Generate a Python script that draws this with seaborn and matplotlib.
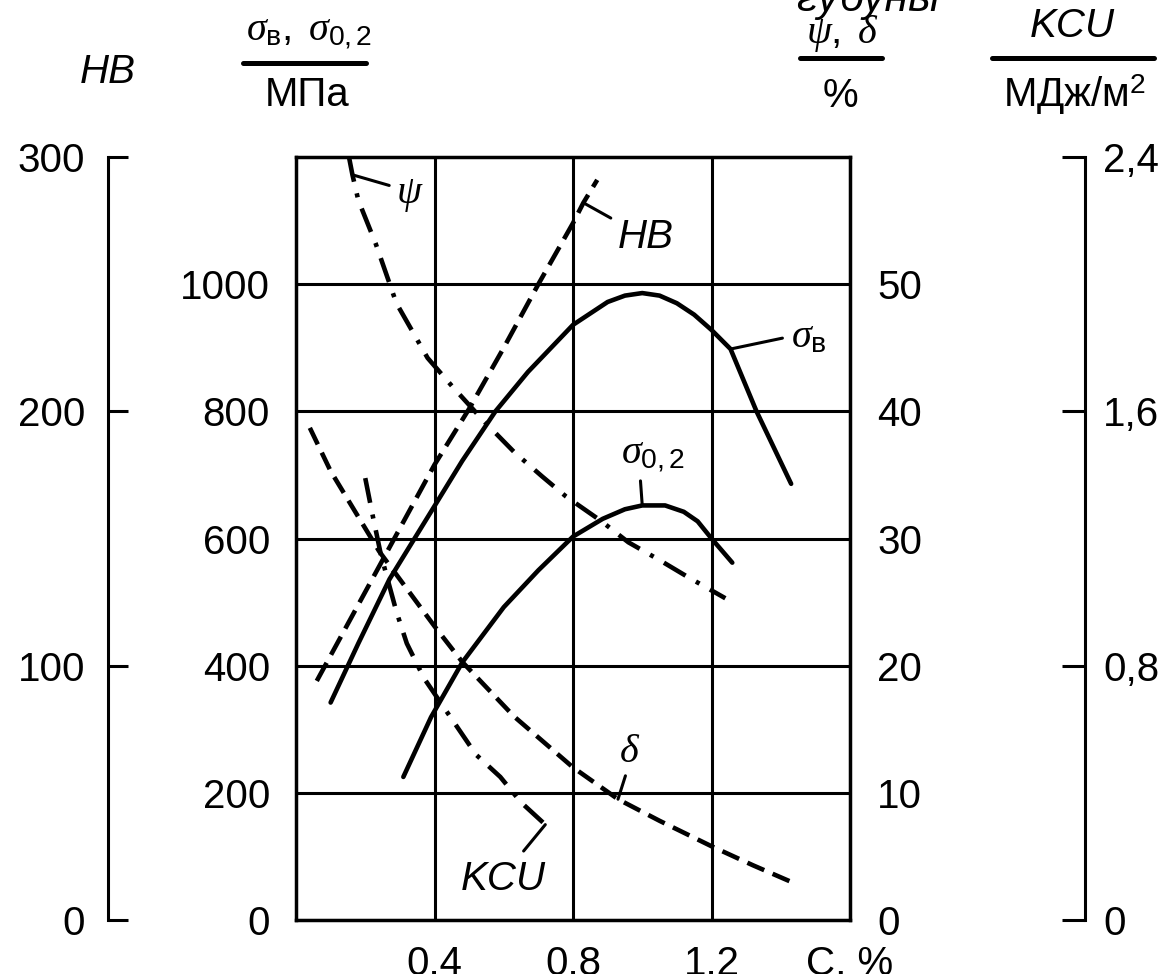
import matplotlib
matplotlib.use("Agg")
import matplotlib.pyplot as plt
import seaborn as sns
from matplotlib.lines import Line2D

# values, x = carbon content C, %
sigma_b_c = [0.10, 0.18, 0.27, 0.40, 0.48, 0.576, 0.67, 0.80, 0.90, 0.95, 1.00, 1.05, 1.10, 1.15, 1.20, 1.255, 1.33, 1.43]
sigma_b = [342, 435, 536, 651, 722, 800, 862, 936, 972, 982, 986, 982, 970, 952, 928, 898, 800, 686]  # MPa

sigma_02_c = [0.31, 0.39, 0.48, 0.60, 0.70, 0.80, 0.886, 0.95, 1.00, 1.066, 1.12, 1.16, 1.20, 1.26]
sigma_02 = [225, 319, 405, 492, 550, 603, 631, 646, 652, 652, 642, 627, 600, 562]  # MPa

hb_c = [0.06, 0.24, 0.40, 0.50, 0.60, 0.70, 0.80, 0.83, 0.87]
hb = [94, 139, 179, 201, 225, 250, 274, 282, 291]  # HB

psi_c = [0.153, 0.163, 0.18, 0.23, 0.29, 0.38, 0.45, 0.54, 0.63, 0.71, 0.78, 0.88, 0.96, 1.05, 1.13, 1.24]
psi = [60, 58.6, 56.6, 53.2, 48.5, 44.2, 42.0, 39.3, 36.8, 34.9, 33.3, 31.4, 29.7, 28.3, 27.0, 25.3]  # %

delta_c = [0.04, 0.10, 0.24, 0.40, 0.48, 0.63, 0.80, 0.93, 1.05, 1.20, 1.32, 1.43]
delta = [38.7, 35.3, 29.0, 23.1, 20.3, 16.0, 12.0, 9.5, 7.8, 5.8, 4.3, 3.0]  # %

kcu_c = [0.20, 0.22, 0.245, 0.29, 0.32, 0.37, 0.47, 0.52, 0.59, 0.65, 0.72]
kcu = [1.39, 1.28, 1.15, 0.97, 0.87, 0.76, 0.60, 0.52, 0.45, 0.37, 0.30]  # MJ/m2

x_ticks = [0.4, 0.8, 1.2, 1.6]
x_labels = ["0.4", "0.8", "1.2", "C, %"]
sigma_ticks = [0, 200, 400, 600, 800, 1000]
hb_ticks = [0, 100, 200, 300]
pd_ticks = [0, 10, 20, 30, 40, 50]
kcu_ticks = [0, 0.8, 1.6, 2.4]
kcu_labels = ["0", "0,8", "1,6", "2,4"]

sns.set_theme(style="white")
plt.rcParams["font.family"] = ["Liberation Sans", "DejaVu Sans"]
plt.rcParams["mathtext.fontset"] = "custom"
plt.rcParams["mathtext.rm"] = "Liberation Sans"
plt.rcParams["mathtext.sf"] = "Liberation Sans"
plt.rcParams["mathtext.it"] = "Liberation Serif:italic"
plt.rcParams["text.color"] = "black"

W, H = 1167, 974
FS = 29
PT = 0.72  # points per pixel at dpi 100

fig = plt.figure(figsize=(W / 100, H / 100), dpi=100)
L, R, T, B = 296, 850, 157, 920
ax = fig.add_axes([L / W, 1 - B / H, (R - L) / W, (B - T) / H])

# main grid / box
ax.set_xlim(0, 1.6)
ax.set_ylim(0, 1200)
ax.set_xticks(x_ticks)
ax.set_xticklabels(x_labels)
ax.set_yticks(sigma_ticks)
ax.set_yticklabels([str(v) for v in sigma_ticks])
ax.grid(True, color="black", lw=2.2)
for s in ax.spines.values():
    s.set_color("black")
    s.set_linewidth(2.5)
ax.tick_params(axis="y", length=0, pad=26 * PT, labelsize=FS, labelcolor="black")
ax.tick_params(axis="x", length=0, pad=25 * PT, labelsize=FS, labelcolor="black")

# HB axis on the far left
ax_hb = ax.twinx()
ax_hb.set_ylim(0, 300)
ax_hb.yaxis.set_ticks_position("left")
ax_hb.set_yticks(hb_ticks)
ax_hb.set_yticklabels([str(v) for v in hb_ticks])
for k, s in ax_hb.spines.items():
    s.set_visible(k == "left")
ax_hb.spines["left"].set_position(("outward", (L - 108) * PT))
ax_hb.spines["left"].set_linewidth(2.2)
ax_hb.spines["left"].set_color("black")
ax_hb.tick_params(axis="y", direction="in", length=20 * PT, width=2.2, pad=23 * PT,
                  labelsize=FS, labelcolor="black", color="black")

# psi, delta axis (labels just right of the box)
ax_pd = ax.twinx()
ax_pd.set_ylim(0, 60)
ax_pd.set_yticks(pd_ticks)
ax_pd.set_yticklabels([str(v) for v in pd_ticks])
for s in ax_pd.spines.values():
    s.set_visible(False)
ax_pd.tick_params(axis="y", length=0, pad=27 * PT, labelsize=FS, labelcolor="black")

# KCU axis on the far right
ax_kcu = ax.twinx()
ax_kcu.set_ylim(0, 2.4)
ax_kcu.set_yticks(kcu_ticks)
ax_kcu.set_yticklabels(kcu_labels)
for k, s in ax_kcu.spines.items():
    s.set_visible(k == "right")
ax_kcu.spines["right"].set_position(("outward", (1085 - R) * PT))
ax_kcu.spines["right"].set_linewidth(2.2)
ax_kcu.spines["right"].set_color("black")
ax_kcu.tick_params(axis="y", direction="in", length=23 * PT, width=2.2, pad=18 * PT,
                   labelsize=FS, labelcolor="black", color="black")

LW = 3.3
dash = (0, (4.5, 2.0))
dash_d = (0, (4.0, 2.0))
dashdot = (0, (5.5, 2.6, 0.9, 2.6))

sns.lineplot(x=sigma_b_c, y=sigma_b, ax=ax, color="black", lw=LW, estimator=None)
sns.lineplot(x=sigma_02_c, y=sigma_02, ax=ax, color="black", lw=LW, estimator=None)
sns.lineplot(x=hb_c, y=hb, ax=ax_hb, color="black", lw=LW, linestyle=dash, estimator=None)
sns.lineplot(x=psi_c, y=psi, ax=ax_pd, color="black", lw=LW, linestyle=dashdot, estimator=None)
sns.lineplot(x=delta_c, y=delta, ax=ax_pd, color="black", lw=LW, linestyle=dash_d, estimator=None)
sns.lineplot(x=kcu_c, y=kcu, ax=ax_kcu, color="black", lw=LW, linestyle=dashdot, estimator=None)

for a in (ax, ax_hb, ax_pd, ax_kcu):
    a.set_xlabel("")
    a.set_ylabel("")
ax.set_xlim(0, 1.6)

lead = dict(arrowstyle="-", color="black", lw=2.2, shrinkB=0)

ax.annotate(r"$\sigma_{\mathrm{в}}$", xy=(sigma_b_c[15], sigma_b[15]), xytext=(1.43, 918),
            fontsize=FS, ha="left", va="center",
            arrowprops=dict(lead, relpos=(0, 0.5), shrinkA=4))
ax.annotate(r"$\sigma_{\mathrm{0,2}}$", xy=(sigma_02_c[8], sigma_02[8]), xytext=(1.03, 730),
            fontsize=FS, ha="center", va="center",
            arrowprops=dict(lead, relpos=(0.3, 0.05), shrinkA=2))
ax_hb.annotate("HB", xy=(hb_c[7], hb[7]), xytext=(1.01, 268.5), fontsize=FS, style="italic",
               ha="center", va="center",
               arrowprops=dict(lead, relpos=(0, 0.9), shrinkA=3))
ax_pd.annotate(r"$\psi$", xy=(psi_c[1], psi[1]), xytext=(0.33, 57), fontsize=FS,
               ha="center", va="center",
               arrowprops=dict(lead, relpos=(0, 0.7), shrinkA=3))
ax_pd.annotate(r"$\delta$", xy=(delta_c[7], delta[7]), xytext=(0.963, 13.3), fontsize=FS,
               ha="center", va="center",
               arrowprops=dict(lead, relpos=(0.4, 0), shrinkA=2))
ax_kcu.annotate("KCU", xy=(kcu_c[-1], kcu[-1]), xytext=(0.6, 0.13), fontsize=FS, style="italic",
                ha="center", va="center",
                arrowprops=dict(lead, relpos=(0.65, 1), shrinkA=5))


def fx(x, y):
    return x / W, 1 - y / H


# headers
fig.text(*fx(108, 72), "HB", fontsize=FS, style="italic", ha="center", va="center")
fig.text(*fx(309, 33), r"$\sigma_{\mathrm{в}},\ \sigma_{\mathrm{0,2}}$", fontsize=FS,
         ha="center", va="center")
fig.add_artist(Line2D([243 / W, 366 / W], [1 - 63 / H] * 2, lw=3.6, color="black"))
fig.text(*fx(307, 95), "МПа", fontsize=FS, ha="center", va="center")

fig.text(*fx(842, 33), r"$\psi,\ \delta$", fontsize=FS, ha="center", va="center")
fig.add_artist(Line2D([800 / W, 882 / W], [1 - 58 / H] * 2, lw=3.6, color="black"))
fig.text(*fx(840, 96), "%", fontsize=FS, ha="center", va="center")

fig.text(*fx(1072, 26), "KCU", fontsize=FS, style="italic", ha="center", va="center")
fig.add_artist(Line2D([992 / W, 1154 / W], [1 - 58 / H] * 2, lw=3.6, color="black"))
fig.text(*fx(1075, 95), r"МДж/м$^{2}$", fontsize=FS, ha="center", va="center")

fig.text(*fx(868, 11), "губуны", fontsize=31, style="italic", ha="center", va="baseline")

fig.savefig("out.png", dpi=100)
